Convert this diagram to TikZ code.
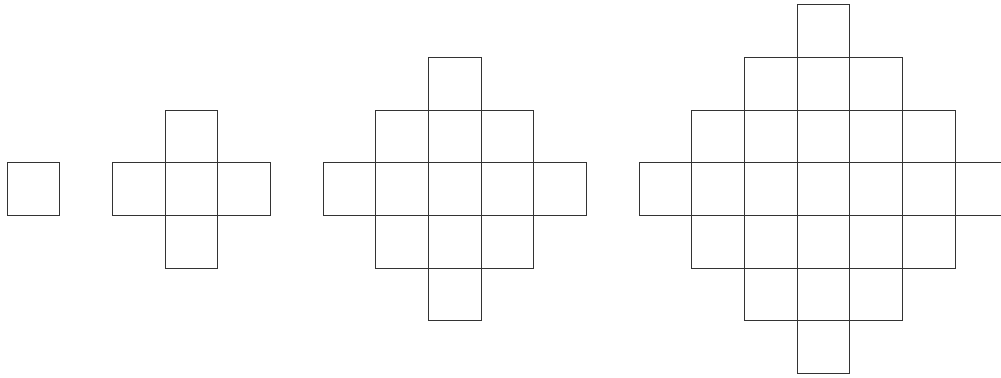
\documentclass[tikz,border=0pt]{standalone}
\begin{document}
\begin{tikzpicture}[x=1cm,y=1cm,cell/.style={draw=black!80,line width=0.45pt}]
\clip (-0.133,-3.57) rectangle (18.872,3.588);
\useasboundingbox (-0.133,-3.57) rectangle (18.872,3.588);
\foreach \cx/\r in {0.5/0, 3.5/1, 8.5/2, 15.5/3} {
  \foreach \i in {-3,...,3} {
    \foreach \j in {-3,...,3} {
      \pgfmathtruncatemacro\dd{abs(\i)+abs(\j)}
      \ifnum\dd>\r\relax\else
        \draw[cell] ({\cx+\i-0.5},{\j-0.5}) rectangle ++(1,1);
      \fi
    }
  }
}
\end{tikzpicture}
\end{document}
